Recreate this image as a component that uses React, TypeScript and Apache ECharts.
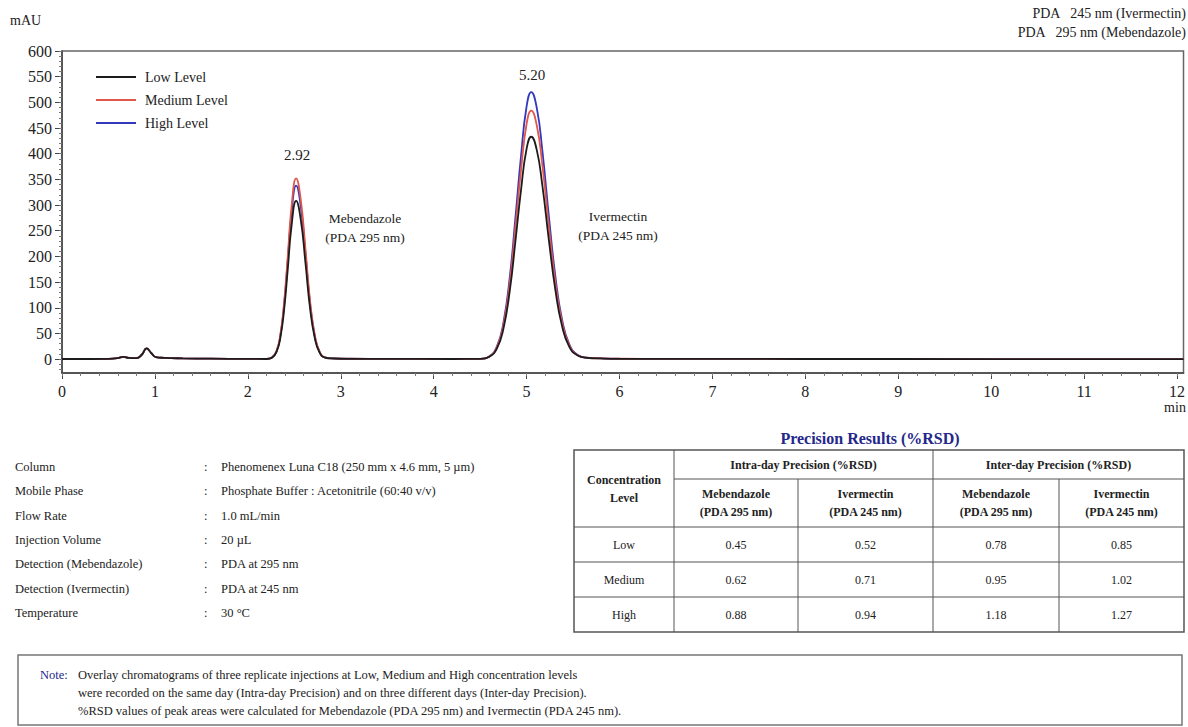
import React, { useEffect, useRef } from 'react';
import * as echarts from 'echarts';

// ---------- data ----------
const times = [
  0, 0.3, 0.5, 0.6, 0.66, 0.72, 0.8, 0.86, 0.91, 0.96, 1.01, 1.1, 1.3, 1.6, 2.0,
  2.2, 2.26, 2.31, 2.35, 2.39, 2.43, 2.47, 2.52, 2.57, 2.62, 2.67, 2.72, 2.77, 2.83, 2.92, 3.1,
  3.5, 4.2,
  4.5, 4.6, 4.68, 4.75, 4.82, 4.88, 4.94, 5.0, 5.05, 5.11, 5.17, 5.24, 5.31, 5.38, 5.46, 5.55, 5.65, 5.8, 6.0,
  6.5, 8.0, 10.0, 12.07,
];
const lowLevel = [
  0.3, 0.3, 0.6, 2, 4.5, 2.5, 2, 9, 21, 12, 4, 2.5, 1.5, 0.8, 0.4,
  0.3, 2.9, 14.5, 41.6, 95.5, 175.6, 258.7, 308, 271, 187.9, 98.6, 41.6, 13.6, 3.1, 1.2, 0.6,
  0.4, 0.3,
  0.5, 4.8, 20.4, 58.5, 134.2, 229.5, 329.1, 409.6, 433, 407.0, 337.7, 231.7, 134.2, 65.8, 23.8, 6.9, 2.6, 1.3, 0.6,
  0.4, 0.3, 0.2, 0.2,
];
const mediumLevel = [
  0.3, 0.3, 0.6, 2, 4.5, 2.5, 2, 9, 21, 12, 4, 2.5, 1.5, 0.8, 0.4,
  0.3, 3.3, 16.5, 47.5, 109.1, 200.6, 295.7, 352, 309.8, 214.7, 112.6, 47.5, 15.5, 3.5, 1.4, 0.7,
  0.4, 0.3,
  0.6, 5.3, 22.7, 65.3, 150.0, 256.5, 367.8, 457.9, 484, 455.0, 377.5, 258.9, 150.0, 73.6, 26.6, 7.7, 2.9, 1.5, 0.7,
  0.4, 0.3, 0.2, 0.2,
];
const highLevel = [
  0.3, 0.3, 0.6, 2, 4.5, 2.5, 2, 9, 21, 12, 4, 2.5, 1.5, 0.8, 0.4,
  0.3, 3.1, 15.9, 45.6, 104.8, 192.7, 283.9, 338, 297.4, 206.2, 108.2, 45.6, 14.9, 3.4, 1.4, 0.7,
  0.4, 0.3,
  0.6, 5.7, 24.4, 70.2, 161.2, 275.6, 395.2, 491.9, 520, 488.8, 405.6, 278.2, 161.2, 79.0, 28.6, 8.3, 3.1, 1.6, 0.8,
  0.4, 0.3, 0.2, 0.2,
];
const seriesNames = ['Low Level', 'Medium Level', 'High Level'];
const seriesColors = ['#1c1c1c', '#e0574c', '#3438bd'];

const yTickValues = [0, 50, 100, 150, 200, 250, 300, 350, 400, 450, 500, 550, 600];
const xTickValues = [0, 1, 2, 3, 4, 5, 6, 7, 8, 9, 10, 11, 12];

const peakLabels = ['2.92', '5.20'];
const compoundNames = ['Mebendazole', 'Ivermectin'];
const compoundWaves = ['(PDA 295 nm)', '(PDA 245 nm)'];
const detectorLines = ['PDA   245 nm (Ivermectin)', 'PDA   295 nm (Mebendazole)'];

const conditionLabels = ['Column', 'Mobile Phase', 'Flow Rate', 'Injection Volume', 'Detection (Mebendazole)', 'Detection (Ivermectin)', 'Temperature'];
const conditionValues = ['Phenomenex Luna C18 (250 mm x 4.6 mm, 5 \u00b5m)', 'Phosphate Buffer : Acetonitrile (60:40 v/v)', '1.0 mL/min', '20 \u00b5L', 'PDA at 295 nm', 'PDA at 245 nm', '30 \u00b0C'];

const tableTitle = 'Precision Results (%RSD)';
const tableLevels = ['Low', 'Medium', 'High'];
const intraMebendazole = [0.45, 0.62, 0.88];
const intraIvermectin = [0.52, 0.71, 0.94];
const interMebendazole = [0.78, 0.95, 1.18];
const interIvermectin = [0.85, 1.02, 1.27];

const noteLines = [
  'Overlay chromatograms of three replicate injections at Low, Medium and High concentration levels',
  'were recorded on the same day (Intra-day Precision) and on three different days (Inter-day Precision).',
  '%RSD values of peak areas were calculated for Mebendazole (PDA 295 nm) and Ivermectin (PDA 245 nm).',
];

// ---------- helpers ----------
const FONT = "'Liberation Serif', 'Times New Roman', serif";
const INK = '#222';

function txt(x: number, y: number, text: string, o: any = {}) {
  const align = o.align || 'left';
  return {
    type: 'text',
    x,
    y,
    silent: true,
    style: {
      text,
      fill: o.color || INK,
      fontFamily: FONT,
      fontSize: o.size || 13,
      fontWeight: o.bold ? 'bold' : 'normal',
      align,
      textAlign: align,
      verticalAlign: 'middle',
      textVerticalAlign: 'middle',
    },
  };
}
function hline(x1: number, x2: number, y: number, w = 1) {
  return { type: 'line', silent: true, shape: { x1, y1: y, x2, y2: y }, style: { stroke: '#555', lineWidth: w } };
}
function vline(x: number, y1: number, y2: number, w = 1) {
  return { type: 'line', silent: true, shape: { x1: x, y1, x2: x, y2 }, style: { stroke: '#555', lineWidth: w } };
}

function buildGraphics() {
  const g: any[] = [];
  g.push(txt(10, 20, 'mAU', { size: 14 }));
  detectorLines.forEach((s, i) => g.push(txt(1186, 13 + i * 19, s, { size: 14, align: 'right' })));
  g.push(txt(1175, 407, 'min', { size: 14, align: 'center' }));

  // peak annotations
  g.push(txt(297, 155, peakLabels[0], { size: 15, align: 'center' }));
  g.push(txt(532, 75, peakLabels[1], { size: 15, align: 'center' }));
  g.push(txt(365, 218, compoundNames[0], { size: 13.5, align: 'center' }));
  g.push(txt(365, 237, compoundWaves[0], { size: 13.5, align: 'center' }));
  g.push(txt(618, 216, compoundNames[1], { size: 13.5, align: 'center' }));
  g.push(txt(618, 235, compoundWaves[1], { size: 13.5, align: 'center' }));

  // chromatographic conditions
  conditionLabels.forEach((s, i) => {
    const y = 467 + i * 24.3;
    g.push(txt(15, y, s, { size: 12.5 }));
    g.push(txt(204, y, ':', { size: 12.5 }));
    g.push(txt(221, y, conditionValues[i], { size: 12.5 }));
  });

  // table
  const cx = [574, 674, 798, 933, 1059, 1184];
  const top = 450, h1 = 479, sub = 527, rows = [562, 597, 632];
  g.push(txt(870, 438, tableTitle, { size: 16, bold: true, color: '#24288a', align: 'center' }));
  g.push({ type: 'rect', silent: true, shape: { x: cx[0], y: top, width: cx[5] - cx[0], height: rows[2] - top }, style: { fill: 'none', stroke: '#555', lineWidth: 1.5 } });
  g.push(hline(cx[1], cx[5], h1));
  g.push(hline(cx[0], cx[5], sub));
  g.push(hline(cx[0], cx[5], rows[0]));
  g.push(hline(cx[0], cx[5], rows[1]));
  g.push(vline(cx[1], top, rows[2]));
  g.push(vline(cx[3], top, rows[2]));
  g.push(vline(cx[2], h1, rows[2]));
  g.push(vline(cx[4], h1, rows[2]));
  const mid = (a: number, b: number) => (a + b) / 2;
  const hy = mid(top, sub);
  g.push(txt(mid(cx[0], cx[1]), hy - 9, 'Concentration', { size: 12, bold: true, align: 'center' }));
  g.push(txt(mid(cx[0], cx[1]), hy + 9, 'Level', { size: 12, bold: true, align: 'center' }));
  g.push(txt(mid(cx[1], cx[3]), mid(top, h1), 'Intra-day Precision (%RSD)', { size: 12, bold: true, align: 'center' }));
  g.push(txt(mid(cx[3], cx[5]), mid(top, h1), 'Inter-day Precision (%RSD)', { size: 12, bold: true, align: 'center' }));
  const subNames = [compoundNames[0], compoundNames[1], compoundNames[0], compoundNames[1]];
  const subWaves = [compoundWaves[0], compoundWaves[1], compoundWaves[0], compoundWaves[1]];
  const sy = mid(h1, sub);
  for (let i = 0; i < 4; i++) {
    const x = mid(cx[i + 1], cx[i + 2]);
    g.push(txt(x, sy - 9, subNames[i], { size: 12, bold: true, align: 'center' }));
    g.push(txt(x, sy + 9, subWaves[i], { size: 12, bold: true, align: 'center' }));
  }
  const cols = [intraMebendazole, intraIvermectin, interMebendazole, interIvermectin];
  const rowTop = [sub, rows[0], rows[1]];
  tableLevels.forEach((lv, r) => {
    const y = mid(rowTop[r], rows[r]);
    g.push(txt(mid(cx[0], cx[1]), y, lv, { size: 12, align: 'center' }));
    cols.forEach((c, k) => g.push(txt(mid(cx[k + 1], cx[k + 2]), y, c[r].toFixed(2), { size: 12, align: 'center' })));
  });

  // note box
  g.push({ type: 'rect', silent: true, shape: { x: 18, y: 655, width: 1164, height: 70 }, style: { fill: 'none', stroke: '#777', lineWidth: 1.5 } });
  g.push(txt(40, 675, 'Note:', { size: 12.5, color: '#24288a' }));
  noteLines.forEach((s, i) => g.push(txt(78, 675 + i * 18, s, { size: 12.5 })));
  return g;
}

function buildOption() {
  const seriesData = [lowLevel, mediumLevel, highLevel];
  const yMinor: number[] = [];
  for (let v = -20; v <= 600; v += 10) yMinor.push(v);
  const xMinor: number[] = [];
  for (let v = 0; v <= 60; v += 1) xMinor.push(v / 5);
  const axisColor = '#444';
  return {
    animation: false,
    backgroundColor: '#fff',
    grid: { left: 62, right: 2, top: 51, bottom: 354, show: true, borderColor: '#666', borderWidth: 1.5, backgroundColor: 'transparent' },
    legend: {
      data: seriesNames.map((name) => ({ name, icon: 'rect' })),
      left: 96,
      top: 70,
      padding: 0,
      orient: 'vertical',
      itemWidth: 40,
      itemHeight: 2,
      itemGap: 9,
      textStyle: { fontFamily: FONT, fontSize: 14, color: INK, padding: [0, 0, 0, 4] },
      selectedMode: false,
    },
    xAxis: [
      {
        type: 'value', min: 0, max: 12.07, position: 'bottom',
        axisLine: { onZero: false, lineStyle: { color: axisColor, width: 1.5 } },
        axisTick: { customValues: xTickValues, length: 6, lineStyle: { color: axisColor } },
        axisLabel: { customValues: xTickValues, margin: 10, fontFamily: FONT, fontSize: 16, color: INK },
        splitLine: { show: false },
      },
      {
        type: 'value', min: 0, max: 12.07, position: 'bottom',
        axisLine: { show: false, onZero: false },
        axisTick: { customValues: xMinor, length: 3, lineStyle: { color: '#777' } },
        axisLabel: { show: false },
        splitLine: { show: false },
      },
    ],
    yAxis: [
      {
        type: 'value', min: -27, max: 600, position: 'left',
        axisLine: { show: true, onZero: false, lineStyle: { color: axisColor, width: 1.5 } },
        axisTick: { show: true, customValues: yTickValues, length: 7, lineStyle: { color: axisColor } },
        axisLabel: { customValues: yTickValues, margin: 10, fontFamily: FONT, fontSize: 16, color: INK },
        splitLine: { show: false },
      },
      {
        type: 'value', min: -27, max: 600, position: 'left',
        axisLine: { show: false, onZero: false },
        axisTick: { show: true, customValues: yMinor, length: 3, lineStyle: { color: '#777' } },
        axisLabel: { show: false },
        splitLine: { show: false },
      },
    ],
    series: seriesNames.map((name, k) => ({
      name,
      type: 'line',
      xAxisIndex: 0,
      yAxisIndex: 0,
      data: times.map((t, i) => [t, seriesData[k][i]]),
      symbol: 'none',
      showSymbol: false,
      smooth: 0.5,
      silent: true,
      color: seriesColors[k],
      itemStyle: { color: seriesColors[k] },
      lineStyle: { color: seriesColors[k], width: 1.8 },
      z: 3 - k,
    })),
    graphic: buildGraphics(),
  };
}

export default function App() {
  const ref = useRef<HTMLDivElement>(null);
  useEffect(() => {
    const chart = echarts.init(ref.current!, null, { renderer: 'svg' });
    chart.setOption(buildOption() as any);
    return () => chart.dispose();
  }, []);
  return (
    <div
      ref={ref}
      style={{ position: 'absolute', left: 0, top: 0, width: 1188, height: 727, background: '#fff' }}
    />
  );
}
